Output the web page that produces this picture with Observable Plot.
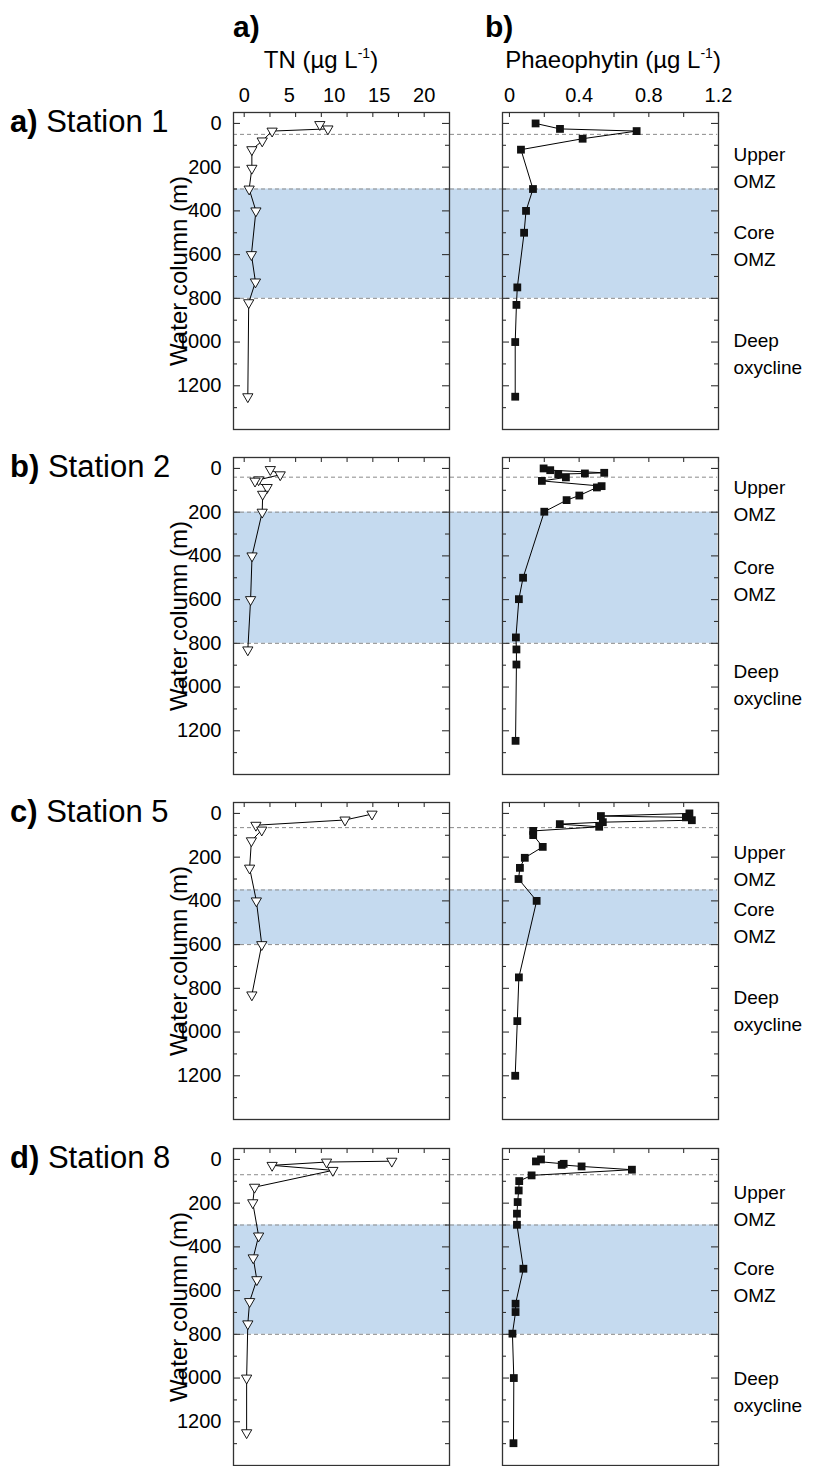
<!DOCTYPE html>
<html><head><meta charset="utf-8">
<script src="https://cdn.jsdelivr.net/npm/d3@7"></script>
<script src="https://cdn.jsdelivr.net/npm/@observablehq/plot@0.6"></script>
<style>
body{margin:0;background:#fff;}
#fig{position:relative;width:819px;height:1466px;font-family:"Liberation Sans",Arial,Helvetica,sans-serif;color:#000;overflow:hidden;background:#fff}
.t{position:absolute;white-space:nowrap;line-height:1}
</style></head><body><div id="fig"></div>
<script>
// ---------- data ----------
const stationNames = ["Station 1", "Station 2", "Station 5", "Station 8"];
const stationLetters = ["a)", "b)", "c)", "d)"];

// Station 1
const s1TnDepth = [5, 25, 35, 80, 120, 205, 300, 400, 600, 725, 820, 1250];
const s1Tn      = [8.4, 9.3, 3.1, 2.0, 0.85, 0.85, 0.55, 1.3, 0.8, 1.25, 0.5, 0.4];
const s1PhDepth = [0, 25, 35, 70, 120, 300, 400, 500, 750, 830, 1000, 1250];
const s1Ph      = [0.15, 0.29, 0.73, 0.42, 0.066, 0.135, 0.095, 0.084, 0.045, 0.04, 0.033, 0.033];
// Station 2
const s2TnDepth = [5, 29, 52, 58, 87, 118, 200, 400, 600, 830];
const s2Tn      = [2.9, 4.0, 1.6, 1.2, 2.55, 2.05, 2.0, 0.87, 0.71, 0.4];
const s2PhDepth = [0, 8, 20, 23, 26, 41, 57, 81, 87, 124, 145, 198, 500, 598, 773, 828, 897, 1246];
const s2Ph      = [0.196, 0.234, 0.544, 0.433, 0.28, 0.324, 0.186, 0.529, 0.502, 0.401, 0.328, 0.20, 0.078, 0.054, 0.037, 0.04, 0.04, 0.035];
// Station 5
const s5TnDepth = [3, 30, 54, 76, 125, 250, 400, 600, 830];
const s5Tn      = [14.2, 11.2, 1.3, 1.95, 0.8, 0.6, 1.35, 1.95, 0.85];
const s5PhDepth = [0, 12, 18, 31, 40, 49, 61, 80, 99, 153, 203, 249, 300, 400, 750, 950, 1200];
const s5Ph      = [1.033, 0.525, 1.013, 1.047, 0.536, 0.289, 0.515, 0.136, 0.136, 0.191, 0.088, 0.06, 0.052, 0.156, 0.054, 0.045, 0.033];
// Station 8
const s8TnDepth = [8, 12, 27, 50, 127, 198, 350, 450, 550, 650, 752, 1000, 1250];
const s8Tn      = [16.4, 9.15, 3.1, 9.85, 1.15, 0.95, 1.6, 1.0, 1.4, 0.6, 0.4, 0.27, 0.27];
const s8PhDepth = [0, 9, 20, 25, 32, 47, 73, 99, 142, 195, 248, 299, 500, 660, 698, 797, 1000, 1298];
const s8Ph      = [0.181, 0.152, 0.311, 0.30, 0.414, 0.703, 0.127, 0.056, 0.053, 0.047, 0.043, 0.043, 0.08, 0.035, 0.035, 0.017, 0.025, 0.023];

// zones (m)
const surfaceLine = [50, 40, 65, 70];
const coreTop     = [300, 200, 350, 300];
const coreBottom  = [800, 800, 600, 800];
// zone label depths (centre of the two-line label, m)
const upperLabelDepth = [195, 140, 232, 205];
const coreLabelDepth  = [553, 505, 492, 553];
const deepLabelDepth  = [1043, 981, 894, 1056];
const zoneLabels = ["Upper\nOMZ", "Core\nOMZ", "Deep\noxycline"];

// axes
const depthMajor = [0, 200, 400, 600, 800, 1000, 1200];
const depthMinor = [100, 300, 500, 700, 900, 1100, 1300];
const tnLabelValues = [0, 5, 10, 15, 20];
const tnTickMarks = [0, 2.86, 5.71, 8.57, 11.43, 14.29, 17.14, 20];
const phLabelValues = [0, 0.4, 0.8, 1.2];
const phTickMarks = [0, 0.2, 0.4, 0.6, 0.8, 1.0, 1.2];

// ---------- layout ----------
const FONT = '"Liberation Sans", Arial, Helvetica, sans-serif';
const W = 216, H = 317;
const panelTops = [112, 457.3, 802.3, 1147.7];
const leftX = 233.3, rightX = 501.5;
const yDomain = [-50, 1400];
const tnDomain = [-1.19, 22.81];
const phDomain = [-0.04, 1.2];
const frameColor = "#333";

const fig = document.getElementById("fig");
function place(node, left, top) {
  node.style.position = "absolute";
  node.style.left = left + "px";
  node.style.top = top + "px";
  fig.appendChild(node);
}
function text(html, left, top, css) {
  const d = document.createElement("div");
  d.className = "t";
  d.innerHTML = html;
  Object.assign(d.style, {left: left + "px", top: top + "px"}, css || {});
  fig.appendChild(d);
  return d;
}
const rows = (depths, vals) => depths.map((d, i) => ({depth: d, value: vals[i]}));
const tnData = [rows(s1TnDepth, s1Tn), rows(s2TnDepth, s2Tn), rows(s5TnDepth, s5Tn), rows(s8TnDepth, s8Tn)];
const phData = [rows(s1PhDepth, s1Ph), rows(s2PhDepth, s2Ph), rows(s5PhDepth, s5Ph), rows(s8PhDepth, s8Ph)];

const triangleDown = {
  draw(ctx, size) {
    const y = Math.sqrt(size / (3 * Math.sqrt(3)));
    ctx.moveTo(0, 2 * y);
    ctx.lineTo(Math.sqrt(3) * y, -y);
    ctx.lineTo(-Math.sqrt(3) * y, -y);
    ctx.closePath();
  }
};

const svgStyle = {background: "transparent", overflow: "visible", fontFamily: FONT, color: "#000"};

function frameTicks(tickVals) {
  return [
    Plot.tickY(depthMajor, {y: d => d, insetRight: W - 7, stroke: frameColor, strokeWidth: 1.1}),
    Plot.tickY(depthMinor, {y: d => d, insetRight: W - 4, stroke: frameColor, strokeWidth: 1.1}),
    Plot.tickY(depthMajor, {y: d => d, insetLeft: W - 7, stroke: frameColor, strokeWidth: 1.1}),
    Plot.tickY(depthMinor, {y: d => d, insetLeft: W - 4, stroke: frameColor, strokeWidth: 1.1}),
    Plot.tickX(tickVals, {x: d => d, insetBottom: H - 5, stroke: frameColor, strokeWidth: 1.1}),
    Plot.frame({stroke: frameColor, strokeWidth: 1.3})
  ];
}

// headers
text("a)", 233, 12, {fontSize: "30px", fontWeight: "bold"});
text("b)", 485, 12, {fontSize: "30px", fontWeight: "bold"});
text('TN (µg L<sup style="font-size:14px;vertical-align:10px">-1</sup>)', 213, 46, {width: "216px", textAlign: "center", fontSize: "24px"});
text('Phaeophytin (µg L<sup style="font-size:14px;vertical-align:10px">-1</sup>)', 483, 46, {width: "260px", textAlign: "center", fontSize: "24px"});

for (let i = 0; i < 4; i++) {
  const top = panelTops[i];

  // background band + dashed zone boundaries spanning both panels
  const bg = Plot.plot({
    width: rightX + W - leftX, height: H,
    margin: 0,
    y: {domain: yDomain, reverse: true, axis: null},
    x: {axis: null},
    style: svgStyle,
    marks: [
      Plot.rect([{y1: coreTop[i], y2: coreBottom[i]}], {y1: "y1", y2: "y2", fill: "#c5daef"}),
      Plot.ruleY([surfaceLine[i], coreTop[i], coreBottom[i]], {y: d => d, stroke: "#8a8a8a", strokeWidth: 1, strokeDasharray: "4,3"})
    ]
  });
  place(bg, leftX, top);

  // left panel: TN
  const mL = 80, mT = 40;
  const leftMarks = [
    ...frameTicks(tnTickMarks),
    Plot.axisY(depthMajor, {tickSize: 0, tickPadding: 12, fontSize: 20, label: null, tickFormat: d => String(d)}),
    Plot.text(["Water column (m)"], {text: d => d, frameAnchor: "left", textAnchor: "middle", rotate: -90, dx: -54, fontSize: 24, lineAnchor: "middle"}),
    Plot.line(tnData[i], {x: "value", y: "depth", stroke: "#000", strokeWidth: 1}),
    Plot.dot(tnData[i], {x: "value", y: "depth", symbol: triangleDown, r: 3.8, fill: "white", stroke: "#000", strokeWidth: 0.9})
  ];
  if (i === 0) leftMarks.push(Plot.axisX(tnLabelValues, {anchor: "top", tickSize: 0, tickPadding: 11, fontSize: 20, label: null, tickFormat: d => String(d)}));
  const left = Plot.plot({
    width: W + mL + 2, height: H + mT + 2,
    marginLeft: mL, marginRight: 2, marginTop: mT, marginBottom: 2,
    x: {domain: tnDomain, ...(i === 0 ? {} : {axis: null}), label: null},
    y: {domain: yDomain, reverse: true, label: null},
    style: svgStyle,
    marks: leftMarks
  });
  place(left, leftX - mL, top - mT);

  // right panel: Phaeophytin
  const mR = 110;
  const zones = [
    {depth: upperLabelDepth[i], label: zoneLabels[0]},
    {depth: coreLabelDepth[i], label: zoneLabels[1]},
    {depth: deepLabelDepth[i], label: zoneLabels[2]}
  ];
  const rightMarks = [
    ...frameTicks(phTickMarks),
    Plot.text(zones, {y: "depth", text: "label", frameAnchor: "right", textAnchor: "start", dx: 15, fontSize: 19, lineHeight: 1.42, lineAnchor: "middle"}),
    Plot.line(phData[i], {x: "value", y: "depth", stroke: "#000", strokeWidth: 1}),
    Plot.dot(phData[i], {x: "value", y: "depth", symbol: "square", r: 4.4, fill: "#111", stroke: "none"})
  ];
  if (i === 0) rightMarks.push(Plot.axisX(phLabelValues, {anchor: "top", tickSize: 0, tickPadding: 11, fontSize: 20, label: null, tickFormat: d => String(d)}));
  const right = Plot.plot({
    width: W + 2 + mR, height: H + mT + 2,
    marginLeft: 2, marginRight: mR, marginTop: mT, marginBottom: 2,
    x: {domain: phDomain, ...(i === 0 ? {} : {axis: null}), label: null},
    y: {domain: yDomain, reverse: true, axis: null, label: null},
    style: svgStyle,
    marks: rightMarks
  });
  place(right, rightX - 2, top - mT);

  // station label
  text(`<b>${stationLetters[i]}</b> ${stationNames[i]}`, 10, top - 6, {fontSize: "31px"});
}
</script>
</body></html>
